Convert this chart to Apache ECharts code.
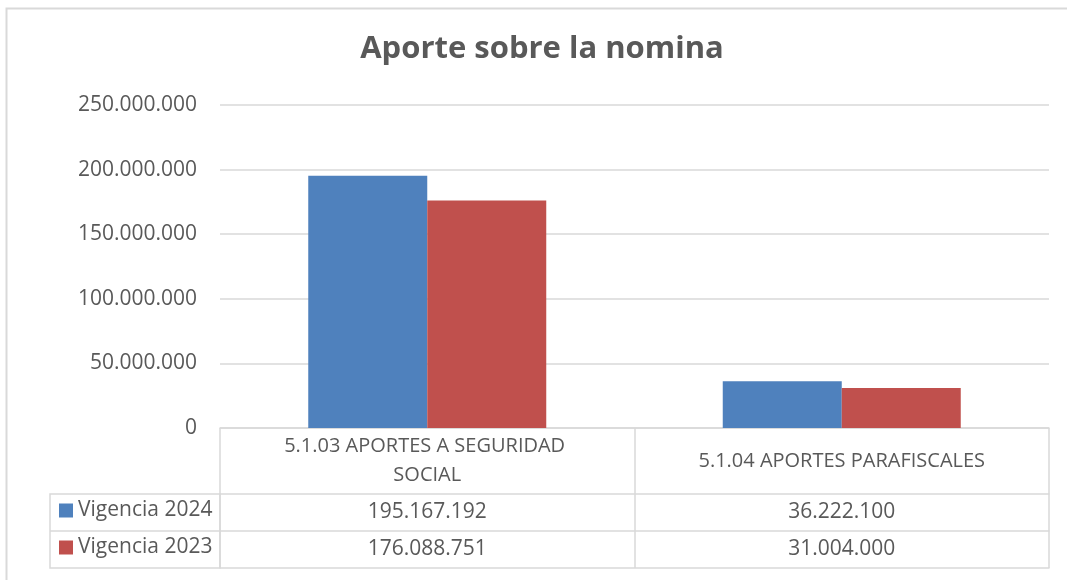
<!DOCTYPE html>
<html>
<head>
<meta charset="utf-8">
<script src="https://cdn.jsdelivr.net/npm/echarts@6/dist/echarts.min.js"></script>
<style>
  html, body { margin: 0; padding: 0; background: #fff; }
  #main { width: 1067px; height: 580px; }
</style>
</head>
<body>
<div id="main"></div>
<script>
var categories = ['5.1.03 APORTES A SEGURIDAD SOCIAL', '5.1.04 APORTES PARAFISCALES'];
var seriesNames = ['Vigencia 2024', 'Vigencia 2023'];
var vigencia2024 = [195167192, 36222100];
var vigencia2023 = [176088751, 31004000];
var yTicks = [0, 50000000, 100000000, 150000000, 200000000, 250000000];

var FONT = '"Open Sans", sans-serif';
var TXT = '#595959';
var LINE = '#d9d9d9';

function fmt(v) {
	return String(v).replace(/\B(?=(\d{3})+(?!\d))/g, '.');
}

var myChart = echarts.init(document.getElementById('main'));

// table rows under the plot are extra category axes pushed down with offset
function rowAxis(values, offset, showLabel) {
	return {
		type: 'category',
		position: 'bottom',
		offset: offset,
		data: categories,
		axisLine: { show: true, lineStyle: { color: LINE, width: 1.5 } },
		axisTick: { show: false },
		axisLabel: {
			show: showLabel,
			interval: 0,
			margin: 18,
			verticalAlign: 'middle',
			color: TXT,
			fontFamily: FONT,
			fontSize: 21,
			formatter: function (val, idx) {
				return values ? fmt(values[idx]) : '';
			}
		}
	};
}

var option = {
	backgroundColor: '#fff',
	animation: false,
	title: {
		text: 'Aporte sobre la nomina',
		left: 537,
		textAlign: 'center',
		top: 29,
		textStyle: { color: TXT, fontFamily: FONT, fontSize: 31, fontWeight: 'bold' }
	},
	legend: [{
		data: [seriesNames[0]],
		left: 59, top: 500, padding: 0,
		icon: 'rect', itemWidth: 14, itemHeight: 14,
		textStyle: { color: TXT, fontFamily: FONT, fontSize: 21 }
	}, {
		data: [seriesNames[1]],
		left: 59, top: 537, padding: 0,
		icon: 'rect', itemWidth: 14, itemHeight: 14,
		textStyle: { color: TXT, fontFamily: FONT, fontSize: 21 }
	}],
	grid: { left: 220, right: 18, top: 105, bottom: 152, containLabel: false },
	xAxis: [{
		type: 'category',
		data: categories,
		axisLine: { show: true, lineStyle: { color: LINE, width: 1.5 } },
		axisTick: { show: true, length: 140, lineStyle: { color: LINE, width: 1.5 } },
		axisLabel: {
			interval: 0,
			hideOverlap: false,
			margin: 33,
			verticalAlign: 'middle',
			width: 320,
			overflow: 'break',
			lineHeight: 29,
			color: TXT,
			fontFamily: FONT,
			fontSize: 20
		}
	},
		rowAxis(vigencia2024, 66, true),
		rowAxis(vigencia2023, 103, true),
		rowAxis(null, 140, false)
	],
	yAxis: {
		type: 'value',
		min: yTicks[0],
		max: yTicks[yTicks.length - 1],
		interval: yTicks[1] - yTicks[0],
		axisLine: { show: false },
		axisTick: { show: false },
		splitLine: { lineStyle: { color: LINE, width: 1.5 } },
		axisLabel: {
			margin: 23,
			color: TXT,
			fontFamily: FONT,
			fontSize: 21,
			formatter: function (v) { return fmt(v); }
		}
	},
	series: [{
		name: seriesNames[0],
		type: 'bar',
		data: vigencia2024,
		barWidth: 119,
		barGap: '0%',
		itemStyle: { color: '#4F81BD' }
	}, {
		name: seriesNames[1],
		type: 'bar',
		data: vigencia2023,
		barWidth: 119,
		barGap: '0%',
		itemStyle: { color: '#C0504D' }
	}],
	graphic: [
		// outer chart frame
		{ type: 'rect', shape: { x: 6.5, y: 8.5, width: 1080, height: 600 }, style: { fill: null, stroke: LINE, lineWidth: 2 }, silent: true },
		// legend column of the data table
		{ type: 'rect', shape: { x: 50, y: 494, width: 170, height: 74 }, style: { fill: null, stroke: LINE, lineWidth: 1.5 }, silent: true },
		{ type: 'line', shape: { x1: 50, y1: 531, x2: 220, y2: 531 }, style: { stroke: LINE, lineWidth: 1.5 }, silent: true }
	]
};

myChart.setOption(option);
</script>
</body>
</html>
